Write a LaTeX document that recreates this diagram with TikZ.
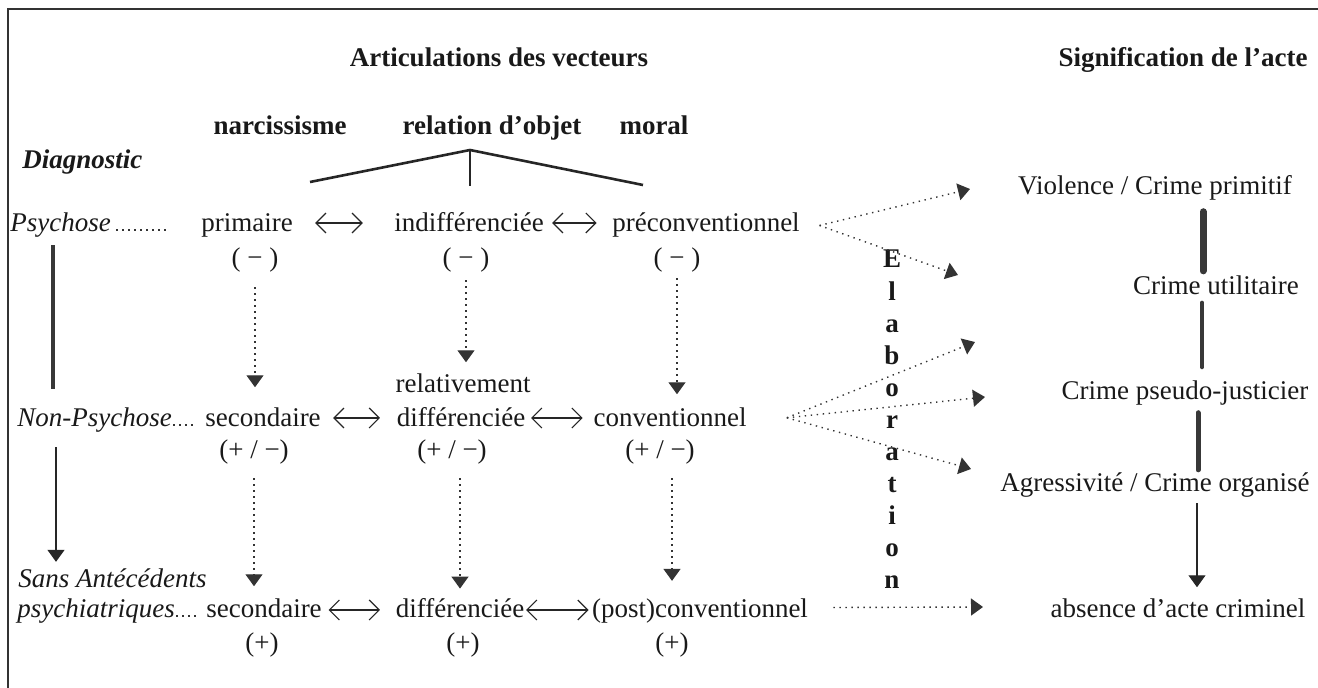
\documentclass[tikz,border=0pt]{standalone}
\usepackage{fontspec}
\setmainfont{Liberation Serif}
\usetikzlibrary{arrows.meta}

\begin{document}
\begin{tikzpicture}[x=0.5pt, y=-0.5pt, >={Triangle[length=6pt,width=8.5pt]},
  every node/.style={font=\fontsize{13.5}{16}\selectfont, inner sep=0pt, anchor=base, text=black!90},
  hd/.style={font=\fontsize{13.5}{16}\selectfont\bfseries},
  lbl/.style={font=\fontsize{13.5}{16}\selectfont\itshape, anchor=base west},
  dotline/.style={draw=black!80, line width=0.7pt, dash pattern=on 0.7pt off 2.3pt},
  fan/.style={dotline, ->},
  dbl/.style={{Straight Barb[length=5pt,width=10pt]}-{Straight Barb[length=5pt,width=10pt]}, line width=0.6pt, draw=black!85},
  bar/.style={draw=black!78, line cap=round},
  frame/.style={draw=black!80, line width=0.9pt}]

  \useasboundingbox (0,0) rectangle (1318,688);
  \draw[frame] (8,688) -- (8,9) -- (1318,9);

  % headings
  \node[hd] (artic)  at (499,67)  {Articulations des vecteurs};
  \node[hd] (signif) at (1183,67) {Signification de l’acte};
  \node[hd] (narc)   at (280,135) {narcissisme};
  \node[hd] (relob)  at (492,135) {relation d’objet};
  \node[hd] (moral)  at (654,135) {moral};
  \node[lbl, font=\fontsize{13.5}{16}\selectfont\bfseries\itshape] (diag) at (22,169) {Diagnostic};

  % bracket under the vectors
  \coordinate (apex) at (470,150);
  \draw[line width=1.3pt, black!85] (310,182) -- (apex) -- (643,185);
  \draw[line width=0.6pt, black!85] (apex) -- (470,186);

  % diagnostic labels
  \node[lbl] (psy)    at (10,232) {Psychose};
  \node[lbl] (nonpsy) at (17,427) {Non-Psychose};
  \node[lbl] (sansa)  at (18,588) {Sans Antécédents};
  \node[lbl] (sansb)  at (17,618) {psychiatriques};

  % row 1
  \node (prim)   at (247,232) {primaire};
  \node (indif)  at (469,232) {indifférenciée};
  \node (precon) at (706,232) {préconventionnel};
  \node (m1) at (255,267) {( − )};
  \node (m2) at (466,267) {( − )};
  \node (m3) at (677,267) {( − )};

  % row 2
  \node (rel)  at (463,393) {relativement};
  \node (seca) at (263,427) {secondaire};
  \node (difa) at (461,427) {différenciée};
  \node (conv) at (670,427) {conventionnel};
  \node (pm1) at (254,459) {(+ / −)};
  \node (pm2) at (452,459) {(+ / −)};
  \node (pm3) at (660,459) {(+ / −)};

  % row 3
  \node (secb)     at (264,618) {secondaire};
  \node (difb)     at (460,618) {différenciée};
  \node (postconv) at (700,618) {(post)conventionnel};
  \node (p1) at (262,652) {(+)};
  \node (p2) at (463,652) {(+)};
  \node (p3) at (672,652) {(+)};

  % Elaboration
  \foreach \ch [count=\i from 0] in {E,l,a,b,o,r,a,t,i,o,n}
    \node[hd] (elab\i) at (892,268+32.1*\i) {\ch};

  % meaning of the act
  \node (viol)   at (1155,195) {Violence / Crime primitif};
  \node (util)   at (1216,295) {Crime utilitaire};
  \node (pseudo) at (1185,400) {Crime pseudo-justicier};
  \node (aggr)   at (1155,492) {Agressivité / Crime organisé};
  \node (absent) at (1178,618) {absence d’acte criminel};

  % dotted leaders
  \draw[dotline, shorten <=2.5pt, shorten >=15.5pt] ([yshift=1pt]psy.base east) -- ([yshift=1pt]prim.base west);
  \draw[dotline, shorten <=0.5pt, shorten >=5pt] ([yshift=1pt]nonpsy.base east) -- ([yshift=1pt]seca.base west);
  \draw[dotline, shorten <=0.5pt, shorten >=4.5pt] ([yshift=1pt]sansb.base east) -- ([yshift=1pt]secb.base west);

  % double arrows
  \draw[dbl, shorten <=11pt, shorten >=15.5pt] ([yshift=4.5pt]prim.base east) -- ([yshift=4.5pt]indif.base west);
  \draw[dbl, shorten <=4pt, shorten >=7.6pt] ([yshift=4.5pt]indif.base east) -- ([yshift=4.5pt]precon.base west);
  \draw[dbl, shorten <=6pt, shorten >=8.2pt] ([yshift=4.5pt]seca.base east) -- ([yshift=4.5pt]difa.base west);
  \draw[dbl, shorten <=2.7pt, shorten >=5.2pt] ([yshift=4.5pt]difa.base east) -- ([yshift=4.5pt]conv.base west);
  \draw[dbl, shorten <=3.2pt, shorten >=7.7pt] ([yshift=4pt]secb.base east) -- ([yshift=4pt]difb.base west);
  \draw[dbl, shorten <=0.7pt, shorten >=1.5pt] ([yshift=4pt]difb.base east) -- ([yshift=4pt]postconv.base west);

  % vertical dotted arrows
  \draw[fan, shorten <=7pt, shorten >=10.3pt] (m1.south) -- (m1.south |- seca.north);
  \draw[fan, shorten <=3.5pt, shorten >=5.8pt] (m2.south) -- (m2.south |- rel.north);
  \draw[fan, shorten <=2.5pt, shorten >=6.8pt] (m3.south) -- (m3.south |- conv.north);
  \draw[fan, shorten <=6.5pt, shorten >=6.3pt] (pm1.south) -- (pm1.south |- secb.north);
  \draw[fan, shorten <=6.5pt, shorten >=5pt] (pm2.south -| difb) -- (difb.north);
  \draw[fan, shorten <=6.5pt, shorten >=9pt] (pm3.south -| p3) -- (p3 |- postconv.north);

  % diagnostic axis
  \coordinate (lx) at (53,0);
  \coordinate (lx2) at (56,0);
  \draw[bar, line width=2pt, line cap=butt, shorten <=3.6pt, shorten >=9.3pt] (psy.south -| lx) -- (nonpsy.north -| lx);
  \draw[->, black!85, line width=0.6pt, shorten <=7pt, shorten >=3.5pt] (nonpsy.south -| lx2) -- (sansa.north -| lx2);

  % fans towards the act
  \coordinate (ta1) at (970,189);
  \coordinate (ta2) at (958,275);
  \coordinate (tb1) at (975,342);
  \coordinate (tb2) at (985,397);
  \coordinate (tb3) at (971,469);
  \coordinate (tc)  at (983,607);
  \draw[fan] ([xshift=9.7pt]precon.east) -- (ta1);
  \draw[fan] ([xshift=9.7pt]precon.east) -- (ta2);
  \draw[fan] ([xshift=20pt]conv.east) -- (tb1);
  \draw[fan] ([xshift=20pt]conv.east) -- (tb2);
  \draw[fan] ([xshift=20pt]conv.east) -- (tb3);
  \draw[fan] ([xshift=12.5pt,yshift=2pt]postconv.east) -- (tc);

  % scale of the act
  \coordinate (r1) at (1203,0);
  \coordinate (r2) at (1202,0);
  \coordinate (r3) at (1198,0);
  \coordinate (r4) at (1197,0);
  \draw[bar, line width=3.5pt, shorten <=5.3pt, shorten >=2.5pt] (viol.south -| r1) -- (util.north -| r1);
  \draw[bar, line width=2pt, shorten <=3.5pt, shorten >=6.8pt] (util.south -| r2) -- (pseudo.north -| r2);
  \draw[bar, line width=2.5pt, shorten <=3.3pt, shorten >=1.5pt] (pseudo.south -| r3) -- (aggr.north -| r3);
  \draw[->, black!85, line width=0.6pt, shorten <=2.6pt, shorten >=5.8pt] (aggr.south -| r4) -- (absent.north -| r4);

\end{tikzpicture}
\end{document}
